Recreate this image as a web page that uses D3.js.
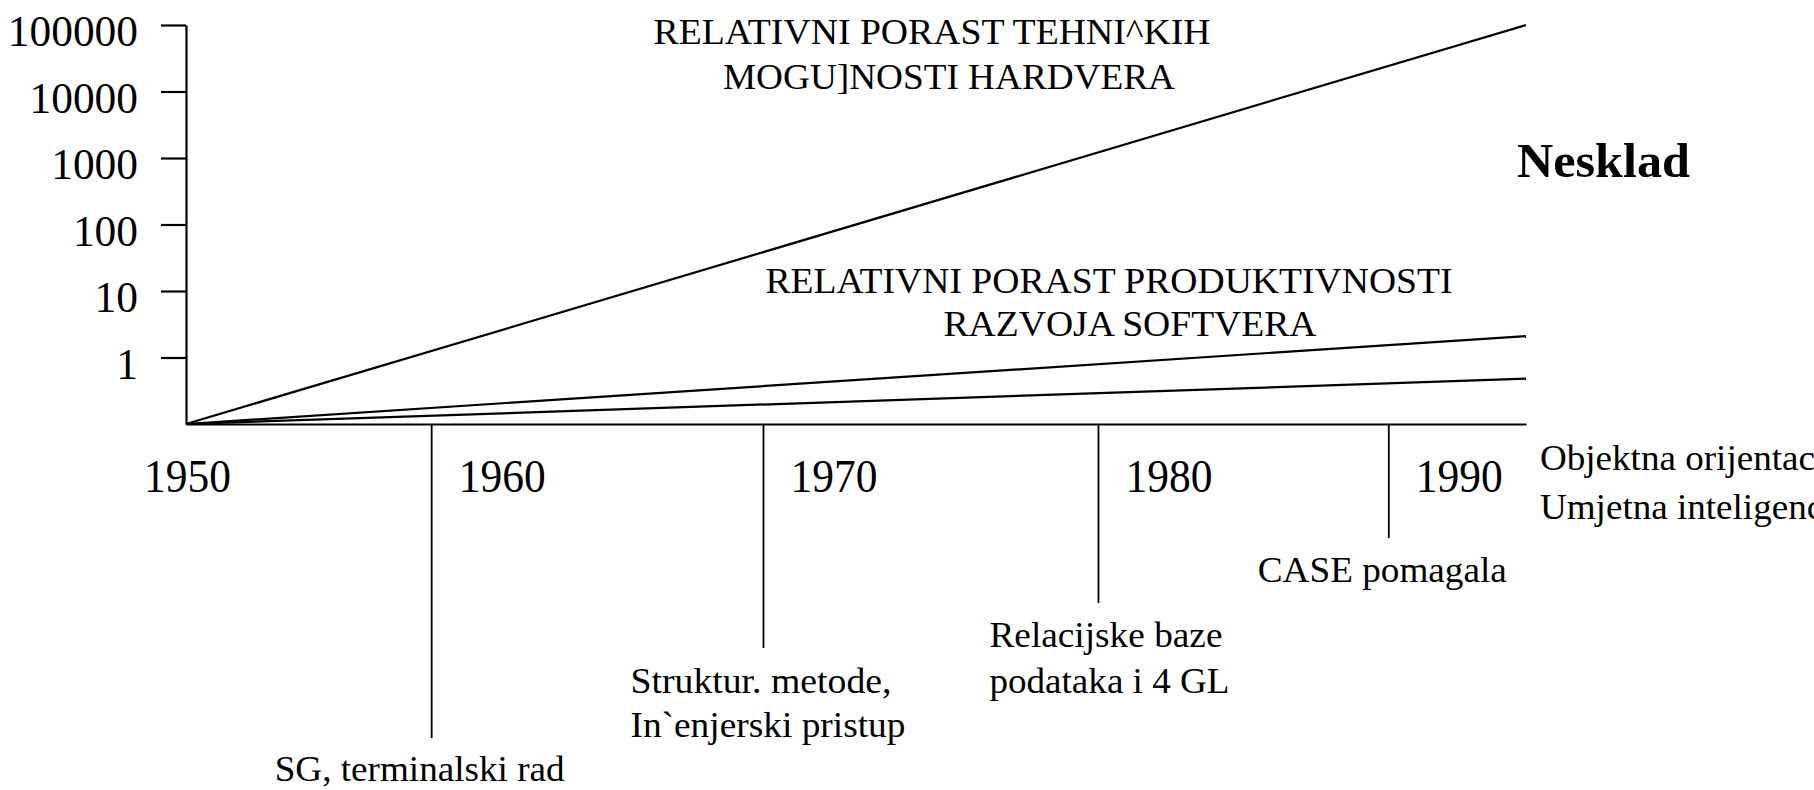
<!DOCTYPE html>
<html>
<head>
<meta charset="utf-8">
<script src="https://cdn.jsdelivr.net/npm/d3@7"></script>
<style>
  html, body { margin: 0; padding: 0; background: #fff; }
  svg { display: block; }
  text { font-family: "Liberation Serif", "Times New Roman", serif; fill: #000; }
</style>
</head>
<body>
<svg id="chart" width="1814" height="790"></svg>
<script>
// ---------- data ----------
const yearTicks = [1950, 1960, 1970, 1980, 1990];
const yTickValues = [1, 10, 100, 1000, 10000, 100000];
const yearStart = 1950;
const yearEnd = 1992;
const baseValue = 0.1;

const hardwareSeries = [[1950, 0.1], [1992, 100000]];
const softwareSeries = [[1950, 0.1], [1992, 2.1]];
const methodSeries   = [[1950, 0.1], [1992, 0.48]];

const hardwareLabel = ["RELATIVNI PORAST TEHNI^KIH", "MOGU]NOSTI HARDVERA"];
const softwareLabel = ["RELATIVNI PORAST PRODUKTIVNOSTI", "RAZVOJA SOFTVERA"];
const gapLabel = "Nesklad";

const eventYears = [1957.7, 1968.1, 1978.6, 1987.7];
const eventLabels = [
  ["SG, terminalski rad"],
  ["Struktur. metode,", "In`enjerski pristup"],
  ["Relacijske baze", "podataka i 4 GL"],
  ["CASE pomagala"]
];
const futureLabel = ["Objektna orijentacija", "Umjetna inteligencija"];

// ---------- layout ----------
const svg = d3.select("#chart");
const x = d3.scaleLinear().domain([yearStart, yearEnd]).range([186, 1526]);
const y = d3.scaleLog().domain([baseValue, 100000]).range([424, 25]);

// y axis
const yAxis = d3.axisLeft(y)
  .tickValues(yTickValues)
  .tickFormat(d3.format("d"))
  .tickSize(25)
  .tickSizeOuter(0)
  .tickPadding(23);
const gy = svg.append("g").attr("transform", `translate(${x(yearStart)},0)`).call(yAxis);
gy.select(".domain").attr("stroke", "#000").attr("stroke-width", 2.2);
gy.selectAll(".tick line").attr("stroke", "#000").attr("stroke-width", 2.2);
gy.selectAll(".tick text")
  .attr("font-family", "Liberation Serif")
  .attr("font-size", 45)
  .attr("fill", "#000")
  .attr("dy", "0.46em")
  .attr("textLength", d => String(d).length * 21.7)
  .attr("lengthAdjust", "spacingAndGlyphs");

// x axis (plain line)
const xAxis = d3.axisBottom(x).tickValues([]).tickSizeOuter(0);
const gx = svg.append("g").attr("transform", `translate(0,${y(baseValue)})`).call(xAxis);
gx.select(".domain").attr("stroke", "#000").attr("stroke-width", 2.2);

// series lines
const line = d3.line().x(d => x(d[0])).y(d => y(d[1]));
[hardwareSeries, softwareSeries, methodSeries].forEach(s => {
  svg.append("path").datum(s)
    .attr("d", line)
    .attr("fill", "none")
    .attr("stroke", "#000")
    .attr("stroke-width", 2.2);
});

// year labels: first sits under the origin, the rest just right of each event stem
svg.append("g").selectAll("text").data(yearTicks).join("text")
  .attr("x", (d, i) => i === 0 ? x(d) - 42 : x(eventYears[i - 1]) + 27)
  .attr("y", 492)
  .attr("text-anchor", "start")
  .attr("font-size", 46)
  .attr("textLength", 87)
  .attr("lengthAdjust", "spacingAndGlyphs")
  .text(d => d);

// helper for fitted text
function fitText(g, str, px, py, anchor, size, width, weight) {
  const t = g.append("text")
    .attr("x", px).attr("y", py)
    .attr("text-anchor", anchor)
    .attr("font-size", size)
    .attr("font-weight", weight || "normal")
    .text(str);
  if (width) t.attr("textLength", width).attr("lengthAdjust", "spacingAndGlyphs");
  return t;
}

const ann = svg.append("g");
// hardware label
fitText(ann, hardwareLabel[0], 932, 44, "middle", 36, 557);
fitText(ann, hardwareLabel[1], 949, 89, "middle", 36, 452);
// software label
fitText(ann, softwareLabel[0], 1109, 293, "middle", 36, 687);
fitText(ann, softwareLabel[1], 1130, 336, "middle", 36, 373);
// gap
fitText(ann, gapLabel, 1517, 177, "start", 48, 173, "bold");

// event stems and labels
const stemBottoms = [738, 648, 603, 538];
const labelDx = [-157, -133, -109, -131];
const labelBaselines = [[781], [693, 737], [647, 693], [582]];
const labelWidths = [[290], [261, 275], [233, 240], [249]];
eventYears.forEach((yr, i) => {
  const ex = x(yr);
  svg.append("line")
    .attr("x1", ex).attr("x2", ex)
    .attr("y1", y(baseValue)).attr("y2", stemBottoms[i])
    .attr("stroke", "#000").attr("stroke-width", 1.8);
  eventLabels[i].forEach((s, j) => {
    fitText(ann, s, ex + labelDx[i], labelBaselines[i][j], "start", 36, labelWidths[i][j]);
  });
});

// future label (runs off the right edge, as in the original)
const futureBaselines = [470, 519];
futureLabel.forEach((s, j) => {
  const t = fitText(ann, s, x(yearEnd) + 14, futureBaselines[j], "start", 36);
  const w = t.node().getComputedTextLength();
  t.attr("textLength", w * 1.03).attr("lengthAdjust", "spacingAndGlyphs");
});
</script>
</body>
</html>
